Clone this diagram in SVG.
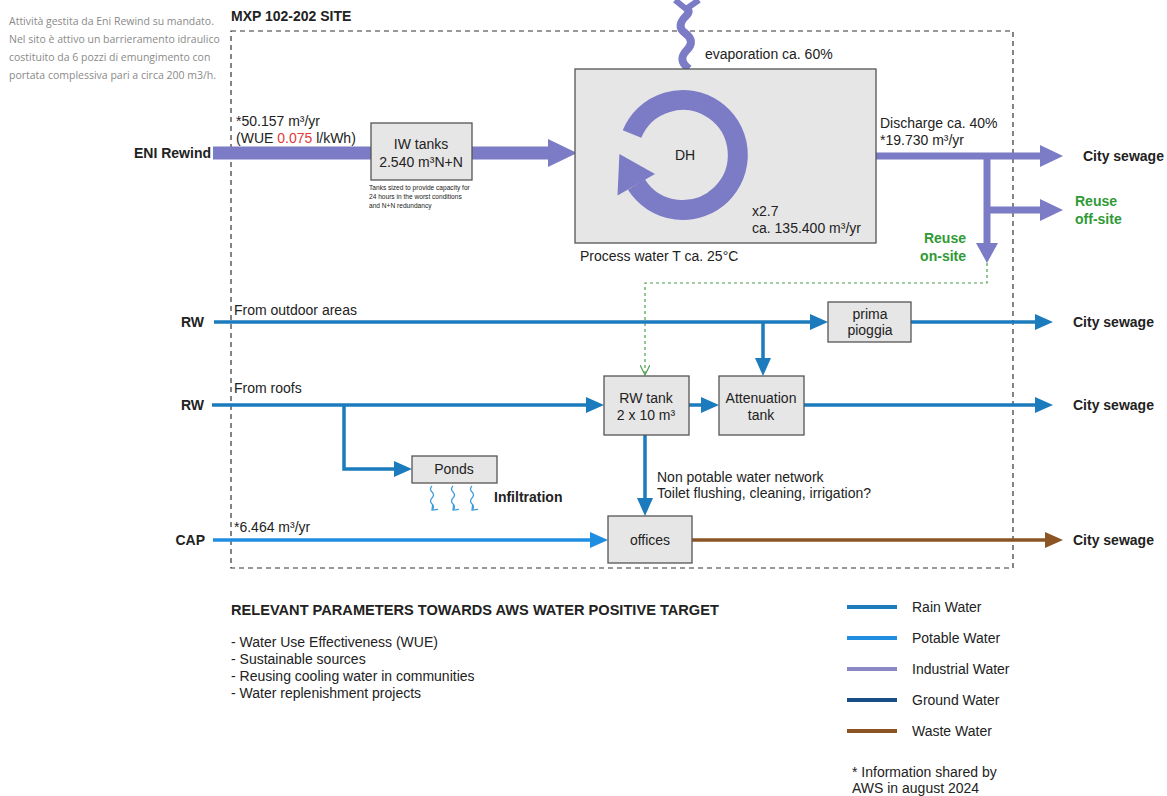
<svg xmlns="http://www.w3.org/2000/svg" width="1167" height="796" viewBox="0 0 1167 796">
<defs>
<style>
text{font-family:"Liberation Sans",Arial,sans-serif;font-size:14px;fill:#222}
.b{font-weight:bold}
.c{text-anchor:middle}
.e{text-anchor:end}
.g{fill:#2f9a35;font-weight:bold}
.note{font-family:"Open Sans","Liberation Sans",sans-serif;font-size:10.5px;fill:#8a8a8a}
.tiny{font-size:6.6px}
.box{fill:#e6e6e6;stroke:#555;stroke-width:1.3}
.rain{stroke:#1b7bbd;stroke-width:3.5;fill:none}
.pot{stroke:#1f8de0;stroke-width:3.5;fill:none}
.waste{stroke:#8a5424;stroke-width:3.5;fill:none}
.ind{stroke:#7b7bc6;fill:none}
.indf{fill:#7b7bc6}
.site{fill:none;stroke:#333;stroke-width:1.2;stroke-dasharray:5,4}
.reuse{fill:none;stroke:#4aa04a;stroke-width:1.2;stroke-dasharray:3,3}
</style>
<marker id="aRain" markerUnits="userSpaceOnUse" markerWidth="18" markerHeight="16" refX="8" refY="8" orient="auto"><path d="M0,0 L18,8 L0,16 z" fill="#1b7bbd"/></marker>
<marker id="aPot" markerUnits="userSpaceOnUse" markerWidth="18" markerHeight="16" refX="8" refY="8" orient="auto"><path d="M0,0 L18,8 L0,16 z" fill="#1f8de0"/></marker>
<marker id="aWaste" markerUnits="userSpaceOnUse" markerWidth="18" markerHeight="16" refX="8" refY="8" orient="auto"><path d="M0,0 L18,8 L0,16 z" fill="#8a5424"/></marker>
<marker id="aOpen" markerUnits="userSpaceOnUse" markerWidth="12" markerHeight="10" refX="10" refY="5" orient="auto"><path d="M0,0 L10,5 L0,10" fill="none" stroke="#4aa04a" stroke-width="1.2"/></marker>
<marker id="aInf" markerUnits="userSpaceOnUse" markerWidth="8" markerHeight="8" refX="5" refY="4" orient="auto"><path d="M0,0 L5,4 L0,8" fill="none" stroke="#3a9ad9" stroke-width="1.2"/></marker>
</defs>

<g id="notes">
<text class="note" x="9" y="25">Attività gestita da Eni Rewind su mandato.</text>
<text class="note" x="9" y="43">Nel sito è attivo un barrieramento idraulico</text>
<text class="note" x="9" y="61">costituito da 6 pozzi di emungimento con</text>
<text class="note" x="9" y="79">portata complessiva pari a circa 200 m3/h.</text>
</g>

<g id="site">
<rect class="site" x="231" y="31" width="782" height="537"/>
<text class="b" x="231" y="21">MXP 102-202 SITE</text>
</g>

<g id="connectors">
<!-- industrial water -->
<line class="ind" x1="213" y1="153" x2="372" y2="153" stroke-width="13"/>
<line class="ind" x1="472" y1="153" x2="550" y2="153" stroke-width="13"/>
<polygon class="indf" points="548,139 577,153 548,167"/>
<path class="ind" stroke-width="8" d="M689,69 C680,62 681,56 687,50 C693,44 692,38 685,33 C678,28 680,22 686,16 C690,12 689,10 686,8"/>
<path class="ind" stroke-width="6" d="M686,9 L675,0 M686,9 L699,0"/>
<line class="ind" x1="876" y1="156" x2="1042" y2="156" stroke-width="7"/>
<polygon class="indf" points="1040,145 1063,156 1040,167"/>
<line class="ind" x1="987" y1="156" x2="987" y2="245" stroke-width="7"/>
<polygon class="indf" points="976,243 987,263 998,243"/>
<line class="ind" x1="987" y1="210" x2="1042" y2="210" stroke-width="7"/>
<polygon class="indf" points="1040,199 1063,210 1040,221"/>
<path class="reuse" d="M987,263 V283 H645 V375" marker-end="url(#aOpen)"/>
<!-- rain water outdoor -->
<line class="rain" x1="214" y1="322" x2="818" y2="322" marker-end="url(#aRain)"/>
<line class="rain" x1="911" y1="322" x2="1043" y2="322" marker-end="url(#aRain)"/>
<line class="rain" x1="763" y1="322" x2="763" y2="366" marker-end="url(#aRain)"/>
<!-- rain water roofs -->
<line class="rain" x1="212" y1="405" x2="594" y2="405" marker-end="url(#aRain)"/>
<polyline class="rain" points="344,405 344,469 402,469" marker-end="url(#aRain)"/>
<line class="rain" x1="689" y1="405" x2="709" y2="405" marker-end="url(#aRain)"/>
<line class="rain" x1="804" y1="405" x2="1043" y2="405" marker-end="url(#aRain)"/>
<line class="rain" x1="645" y1="435" x2="645" y2="506" marker-end="url(#aRain)"/>
<!-- potable + waste -->
<line class="pot" x1="213" y1="540" x2="598" y2="540" marker-end="url(#aPot)"/>
<line class="waste" x1="692" y1="540" x2="1053" y2="540" marker-end="url(#aWaste)"/>
<!-- infiltration -->
<path d="M432,486 q-3,3 0,6 t0,6 t0,6 t0,6" stroke="#3a9ad9" stroke-width="1.2" fill="none" marker-end="url(#aInf)"/>
<path d="M453,486 q-3,3 0,6 t0,6 t0,6 t0,6" stroke="#3a9ad9" stroke-width="1.2" fill="none" marker-end="url(#aInf)"/>
<path d="M472,486 q-3,3 0,6 t0,6 t0,6 t0,6" stroke="#3a9ad9" stroke-width="1.2" fill="none" marker-end="url(#aInf)"/>
</g>

<g id="eni">
<text class="b e" x="211" y="158">ENI Rewind</text>
<text x="236" y="126">*50.157 m³/yr</text>
<text x="236" y="143">(WUE <tspan fill="#e03a3a">0.075</tspan> l/kWh)</text>
</g>

<g id="iw-tanks">
<rect class="box" x="371" y="123" width="101" height="57"/>
<text class="c" x="421" y="149">IW tanks</text>
<text class="c" x="421" y="167">2.540 m³N+N</text>
<text class="tiny" x="369" y="190">Tanks sized to provide capacity for</text>
<text class="tiny" x="369" y="199">24 hours in the worst conditions</text>
<text class="tiny" x="369" y="208">and N+N redundancy</text>
</g>

<g id="dh">
<rect class="box" x="575" y="69" width="301" height="174"/>
<path class="ind" stroke-width="20" d="M632,134 A55,55 0 1 1 636.4,184.5"/>
<polygon class="indf" points="617.5,195.5 655,174 619.4,154"/>
<text class="c" x="685" y="160">DH</text>
<text x="752" y="216">x2.7</text>
<text x="752" y="233">ca. 135.400 m³/yr</text>
<text x="580" y="261">Process water T ca. 25°C</text>
<text x="705" y="59">evaporation ca. 60%</text>
</g>

<g id="discharge">
<text x="880" y="128">Discharge ca. 40%</text>
<text x="880" y="145">*19.730 m³/yr</text>
<text class="b" x="1083" y="161">City sewage</text>
<text class="g" x="1075" y="206">Reuse</text>
<text class="g" x="1075" y="224">off-site</text>
<text class="g e" x="966" y="243">Reuse</text>
<text class="g e" x="966" y="261">on-site</text>
</g>

<g id="rw-outdoor">
<text class="b e" x="204" y="327">RW</text>
<text x="234" y="315">From outdoor areas</text>
<text class="b" x="1073" y="327">City sewage</text>
</g>

<g id="prima-pioggia">
<rect class="box" x="828" y="302" width="83" height="40"/>
<text class="c" x="870" y="319">prima</text>
<text class="c" x="870" y="335">pioggia</text>
</g>

<g id="rw-roofs">
<text class="b e" x="204" y="410">RW</text>
<text x="234" y="393">From roofs</text>
<text class="b" x="1073" y="410">City sewage</text>
</g>

<g id="rw-tank">
<rect class="box" x="604" y="376" width="85" height="59"/>
<text class="c" x="646" y="403">RW tank</text>
<text class="c" x="646" y="420">2 x 10 m³</text>
</g>

<g id="attenuation-tank">
<rect class="box" x="719" y="376" width="85" height="59"/>
<text class="c" x="761" y="403">Attenuation</text>
<text class="c" x="761" y="420">tank</text>
</g>

<g id="ponds">
<rect class="box" x="412" y="456" width="85" height="27"/>
<text class="c" x="454" y="474">Ponds</text>
<text class="b" x="494" y="502">Infiltration</text>
</g>

<g id="offices">
<rect class="box" x="608" y="516" width="84" height="47"/>
<text class="c" x="650" y="545">offices</text>
<text x="657" y="482">Non potable water network</text>
<text x="657" y="498">Toilet flushing, cleaning, irrigation?</text>
</g>

<g id="cap">
<text class="b e" x="205" y="545">CAP</text>
<text x="234" y="532">*6.464 m³/yr</text>
<text class="b" x="1073" y="545">City sewage</text>
</g>

<g id="parameters">
<text class="b" x="231" y="615" style="font-size:14.6px">RELEVANT PARAMETERS TOWARDS AWS WATER POSITIVE TARGET</text>
<text x="231" y="647">- Water Use Effectiveness (WUE)</text>
<text x="231" y="664">- Sustainable sources</text>
<text x="231" y="681">- Reusing cooling water in communities</text>
<text x="231" y="698">- Water replenishment projects</text>
</g>

<g id="legend">
<line x1="847" y1="607" x2="897" y2="607" stroke="#1b7bbd" stroke-width="4"/>
<text x="912" y="612">Rain Water</text>
<line x1="847" y1="638" x2="897" y2="638" stroke="#1f8de0" stroke-width="4"/>
<text x="912" y="643">Potable Water</text>
<line x1="847" y1="669" x2="897" y2="669" stroke="#8c88c4" stroke-width="4"/>
<text x="912" y="674">Industrial Water</text>
<line x1="847" y1="700" x2="897" y2="700" stroke="#174e86" stroke-width="4"/>
<text x="912" y="705">Ground Water</text>
<line x1="847" y1="731" x2="897" y2="731" stroke="#8a5424" stroke-width="4"/>
<text x="912" y="736">Waste Water</text>
<text x="852" y="777">* Information shared by</text>
<text x="852" y="793">AWS in august 2024</text>
</g>
</svg>
